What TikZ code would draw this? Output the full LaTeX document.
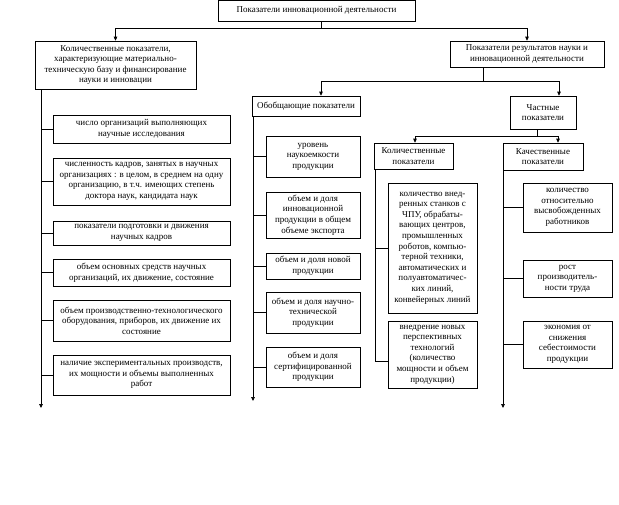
\documentclass[tikz,border=0pt]{standalone}
\usepackage{fontspec}
\setmainfont{Liberation Serif}
\usetikzlibrary{arrows.meta}
\newcommand\mkbox[6]{\node[box,minimum width={(#3-#2)*1pt},minimum height={(#5-#4)*1pt}] (#1) at ({(#2+#3)/2},{-(#4+#5)/2}) {#6};}
\begin{document}
\begin{tikzpicture}[x=1pt,y=1pt,
  box/.style={draw,line width=0.7pt,inner sep=1pt,align=center,font=\fontsize{9}{10.6}\selectfont},
  ln/.style={line width=0.7pt},
  arr/.style={line width=0.7pt,-{Triangle[length=4pt,width=3.6pt]}}]
\useasboundingbox (0,0) rectangle (619,-504);
% main boxes
\mkbox{top}{218}{415}{0.5}{21}{Показатели инновационной деятельности}
\mkbox{lbox}{35}{196}{41}{89}{Количественные показатели,\\характеризующие материально-\\техническую базу и финансирование\\науки и инновации}
\mkbox{rbox}{450}{604}{41}{67}{Показатели результатов науки и\\инновационной деятельности}
\mkbox{gen}{252}{360}{96}{116}{Обобщающие показатели}
\mkbox{part}{510}{576}{96}{129}{Частные\\показатели}
\mkbox{quant}{374}{453}{143}{169}{Количественные\\показатели}
\mkbox{qual}{503}{583}{143}{170}{Качественные\\показатели}
% left column
\mkbox{L1}{53}{230}{115}{143}{число организаций выполняющих\\научные исследования}
\mkbox{L2}{53}{230}{158}{205}{численность кадров, занятых в научных\\организациях : в целом, в среднем на одну\\организацию, в т.ч. имеющих степень\\доктора наук, кандидата наук}
\mkbox{L3}{53}{230}{221}{245}{показатели подготовки и движения\\научных кадров}
\mkbox{L4}{53}{230}{259}{286}{объем основных средств научных\\организаций, их движение, состояние}
\mkbox{L5}{53}{230}{300}{341}{объем производственно-технологического\\оборудования, приборов, их движение их\\состояние}
\mkbox{L6}{53}{230}{355}{395}{наличие экспериментальных производств,\\их мощности и объемы выполненных\\работ}
% general column
\mkbox{G1}{266}{360}{136}{177}{уровень\\наукоемкости\\продукции}
\mkbox{G2}{266}{360}{192}{238}{объем и доля\\инновационной\\продукции в общем\\объеме экспорта}
\mkbox{G3}{266}{360}{253}{279}{объем и доля новой\\продукции}
\mkbox{G4}{266}{360}{292}{333}{объем и доля научно-\\технической\\продукции}
\mkbox{G5}{266}{360}{347}{387}{объем и доля\\сертифицированной\\продукции}
% quantitative column
\mkbox{Q1}{388}{477}{183}{313}{количество внед-\\ренных станков с\\ЧПУ, обрабаты-\\вающих центров,\\промышленных\\роботов, компью-\\терной техники,\\автоматических и\\полуавтоматичес-\\ких линий,\\конвейерных линий}
\mkbox{Q2}{388}{477}{321}{388}{внедрение новых\\перспективных\\технологий\\(количество\\мощности и объем\\продукции)}
% qualitative column
\mkbox{K1}{523}{612}{183}{232}{количество\\относительно\\высвобожденных\\работников}
\mkbox{K2}{523}{612}{260}{297}{рост\\производитель-\\ности труда}
\mkbox{K3}{523}{612}{321}{368}{экономия от\\снижения\\себестоимости\\продукции}
% junctions
\coordinate (j1) at (321,-28);
\coordinate (j2) at (483,-81);
\coordinate (j2a) at (321,-81);
\coordinate (j2b) at (559,-81);
\coordinate (j3) at (537,-136);
\coordinate (j3a) at (415,-136);
\coordinate (j3b) at (558,-136);
\coordinate (lend) at (41,-408);
\coordinate (gend) at (253,-401);
\coordinate (qend) at (375,-361);
\coordinate (kend) at (503,-408);
% tree connectors
\draw[ln] (top.south -| j1) -- (j1);
\draw[arr] (j1) -| (lbox.north);
\draw[arr] (j1) -| (rbox.north);
\draw[ln] (rbox.south -| j2) -- (j2);
\draw[ln] (j2a) -- (j2b);
\draw[arr] (j2a) -- (gen.north -| j2a);
\draw[arr] (j2b) -- (part.north -| j2b);
\draw[ln] (part.south -| j3) -- (j3);
\draw[ln] (j3a) -- (j3b);
\draw[arr] (j3a) -- (quant.north -| j3a);
\draw[arr] (j3b) -- (qual.north -| j3b);
% spines
\draw[arr] (lbox.south -| lend) -- (lend);
\foreach \n in {L1,L2,L3,L4,L5,L6} \draw[ln] (\n.west -| lend) -- (\n.west);
\draw[arr] (gen.south -| gend) -- (gend);
\foreach \n in {G1,G2,G3,G4,G5} \draw[ln] (\n.west -| gend) -- (\n.west);
\draw[ln] (quant.south -| qend) -- (qend) -- (Q2.west |- qend);
\draw[ln] (Q1.west -| qend) -- (Q1.west);
\draw[arr] (qual.south -| kend) -- (kend);
\foreach \n in {K1,K2,K3} \draw[ln] (\n.west -| kend) -- (\n.west);
\end{tikzpicture}
\end{document}
